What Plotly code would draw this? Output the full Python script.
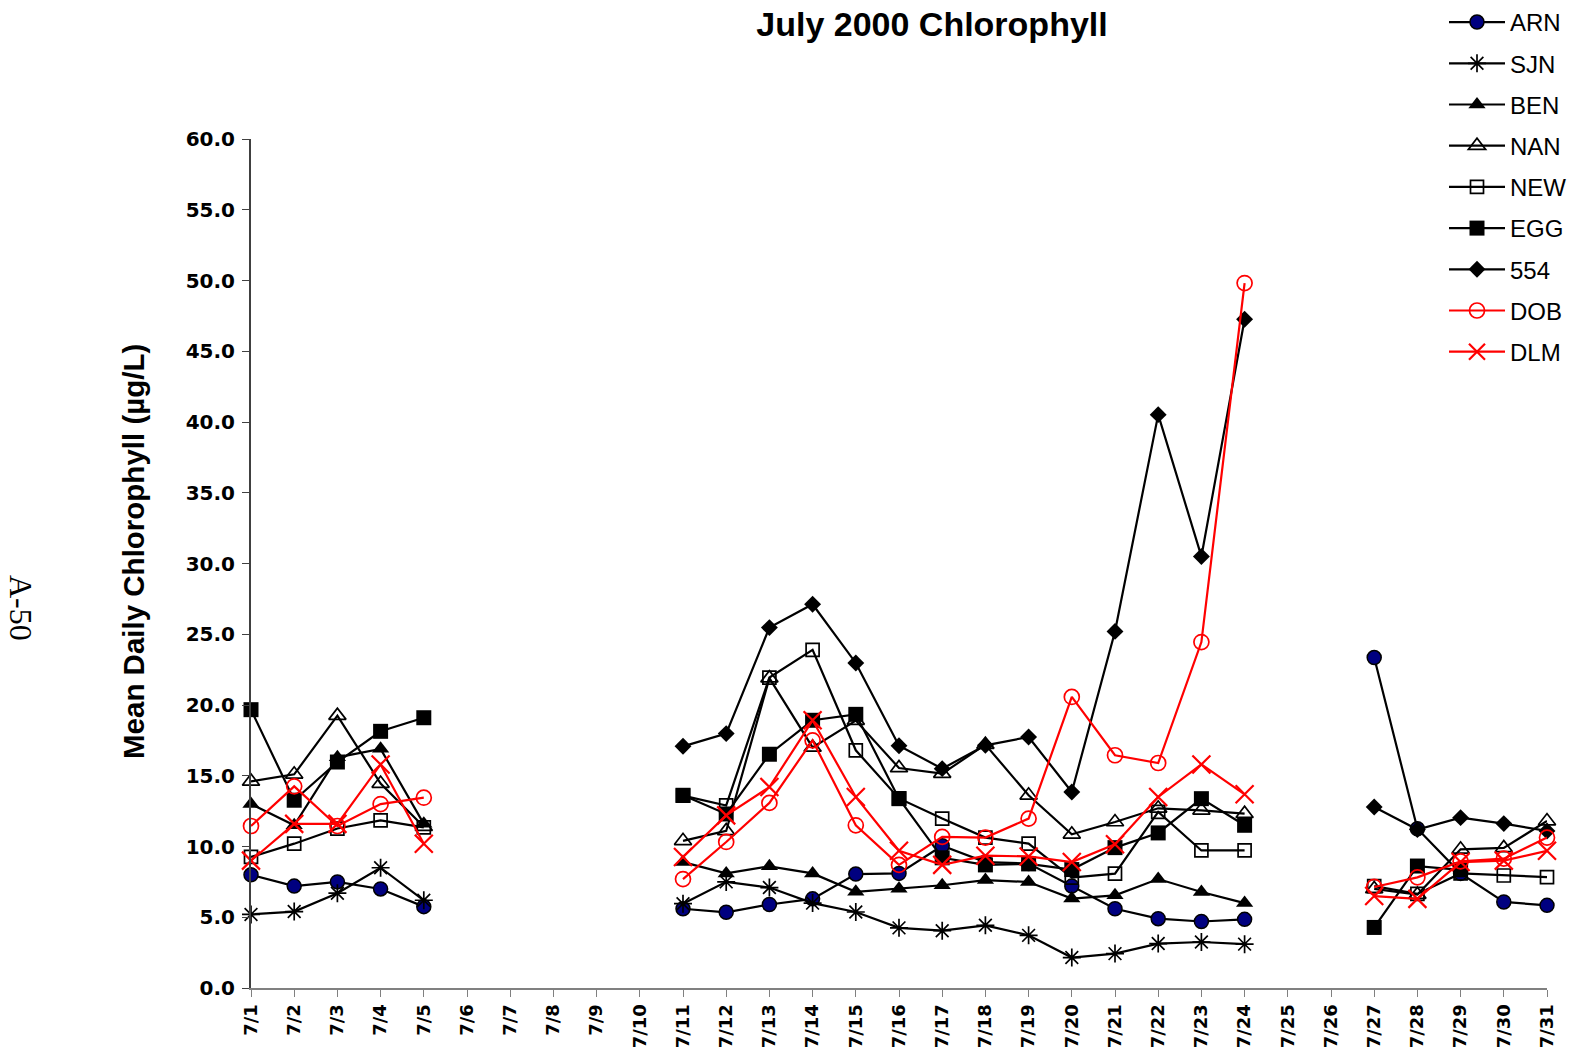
import plotly.graph_objects as go

# Day index of each July date (1..31) and its axis label
days = list(range(1, 32))
day_labels = ["7/1", "7/2", "7/3", "7/4", "7/5", "7/6", "7/7", "7/8", "7/9", "7/10",
              "7/11", "7/12", "7/13", "7/14", "7/15", "7/16", "7/17", "7/18", "7/19", "7/20",
              "7/21", "7/22", "7/23", "7/24", "7/25", "7/26", "7/27", "7/28", "7/29", "7/30", "7/31"]

N = None
# Mean daily chlorophyll (ug/L) per station; None = no data that day
arn = [8.0, 7.2, 7.5, 7.0, 5.75, N, N, N, N, N,
       5.6, 5.35, 5.9, 6.3, 8.05, 8.1, 10.05, 8.9, 8.8, 7.2,
       5.6, 4.9, 4.7, 4.85, N, N, 23.35, 11.25, 8.1, 6.08, 5.84]
sjn = [5.2, 5.4, 6.7, 8.5, 6.2, N, N, N, N, N,
       5.96, 7.5, 7.1, 6.0, 5.37, 4.25, 4.05, 4.43, 3.72, 2.15,
       2.43, 3.14, 3.25, 3.1, N, N, N, N, N, N, N]
ben = [13.0, 11.5, 16.3, 16.9, 11.6, N, N, N, N, N,
       8.9, 8.1, 8.6, 8.1, 6.8, 7.02, 7.26, 7.63, 7.49, 6.32,
       6.55, 7.7, 6.78, 6.0, N, N, N, N, N, N, N]
nan_ = [14.6, 15.1, 19.25, 14.45, 11.4, N, N, N, N, N,
        10.4, 11.1, 21.9, 17.0, 18.9, 15.55, 15.15, 17.2, 13.62, 10.86,
        11.73, 12.7, 12.56, 12.32, N, N, 7.0, 6.6, 9.8, 9.9, 11.8]
new = [9.26, 10.2, 11.27, 11.85, 11.35, N, N, N, N, N,
       13.6, 12.9, 21.94, 23.9, 16.8, 13.4, 11.97, 10.63, 10.2, 7.8,
       8.08, 12.45, 9.72, 9.72, N, N, 7.2, 6.65, 8.1, 7.95, 7.84]
egg = [19.67, 13.27, 15.97, 18.14, 19.1, N, N, N, N, N,
       13.62, 12.3, 16.52, 18.92, 19.34, 13.38, 9.2, 8.7, 8.77, 8.37,
       9.92, 10.96, 13.38, 11.5, N, N, 4.28, 8.62, 8.35, N, N]
s554 = [N, N, N, N, N, N, N, N, N, N,
        17.08, 17.98, 25.47, 27.12, 22.97, 17.12, 15.5, 17.15, 17.74, 13.85,
        25.2, 40.52, 30.5, 47.26, N, N, 12.79, 11.2, 12.04, 11.62, 11.1]
dob = [11.45, 14.25, 11.45, 13.0, 13.45, N, N, N, N, N,
       7.7, 10.32, 13.08, 17.5, 11.5, 8.7, 10.68, 10.63, 11.97, 20.57,
       16.45, 15.9, 24.45, 49.82, N, N, 7.14, 7.82, 8.95, 9.14, 10.63]
dlm = [9.0, 11.6, 11.6, 15.8, 10.2, N, N, N, N, N,
       9.26, 12.2, 14.2, 18.92, 13.5, 9.7, 8.7, 9.35, 9.3, 8.9,
       10.16, 13.5, 15.8, 13.69, N, N, 6.5, 6.3, 8.9, 9.0, 9.7]

y_ticks = [0, 5, 10, 15, 20, 25, 30, 35, 40, 45, 50, 55, 60]

series = [
    ("ARN", arn, "black", dict(symbol="circle", size=14, color="#000080",
                               line=dict(color="black", width=1.5))),
    ("SJN", sjn, "black", dict(symbol="asterisk-open", size=15, color="black",
                               line=dict(color="black", width=1.7))),
    ("BEN", ben, "black", dict(symbol="triangle-up", size=15, color="black")),
    ("NAN", nan_, "black", dict(symbol="triangle-up-open", size=15, color="black",
                                line=dict(color="black", width=1.7))),
    ("NEW", new, "black", dict(symbol="square-open", size=13, color="black",
                               line=dict(color="black", width=1.7))),
    ("EGG", egg, "black", dict(symbol="square", size=15, color="black")),
    ("554", s554, "black", dict(symbol="diamond", size=13, color="black")),
    ("DOB", dob, "#ff0000", dict(symbol="circle-open", size=15, color="#ff0000",
                                 line=dict(color="#ff0000", width=1.7))),
    ("DLM", dlm, "#ff0000", dict(symbol="x-thin-open", size=18, color="#ff0000",
                                 line=dict(color="#ff0000", width=2.2))),
]

fig = go.Figure()
for name, vals, col, mk in series:
    fig.add_trace(go.Scatter(
        x=days, y=vals, name=name, mode="lines+markers",
        line=dict(color=col, width=2.2), marker=mk,
        connectgaps=False, cliponaxis=False, legendgroup=name,
    ))

# plot area in pixels: x 251..1547, y 139..988
PL, PW, PB, PH = 251, 1296, 988, 849

fig.update_layout(
    width=1576, height=1051,
    margin=dict(l=251, r=29, t=139, b=63, autoexpand=False),
    paper_bgcolor="white", plot_bgcolor="white",
    showlegend=True,
    legend=dict(
        xref="container", yref="container", x=1444 / 1576, y=1 + 3 / 1051,
        xanchor="left", yanchor="top", itemwidth=56,
        font=dict(family="Liberation Sans, Arial, sans-serif", size=24, color="black"),
        tracegroupgap=7, bgcolor="rgba(0,0,0,0)",
    ),
    title=dict(
        text="<b>July 2000 Chlorophyll</b>",
        xref="container", x=932 / 1576, xanchor="center",
        yref="container", y=1 - 24 / 1051, yanchor="middle",
        font=dict(family="Liberation Sans, Arial, sans-serif", size=34, color="black"),
    ),
    annotations=[
        dict(
            text="<b>Mean Daily Chlorophyll (µg/L)</b>",
            xref="paper", yref="paper",
            x=(133 - PL) / PW, y=(PB - 552) / PH,
            xanchor="center", yanchor="middle", showarrow=False, textangle=-90,
            font=dict(family="Liberation Sans Narrow, Liberation Sans, Arial, sans-serif",
                      size=29.5, color="black"),
        ),
        dict(
            text="A-50", xref="paper", yref="paper",
            x=(21 - PL) / PW, y=(PB - 608) / PH,
            xanchor="center", yanchor="middle", showarrow=False, textangle=90,
            font=dict(family="Liberation Serif, Times New Roman, serif", size=32, color="black"),
        ),
    ],
)

fig.update_xaxes(
    range=[1, 31], tickmode="array", tickvals=days, ticktext=day_labels,
    tickangle=-90, ticks="outside", ticklen=7, tickcolor="#808080",
    showline=True, linecolor="#808080", linewidth=2, showgrid=False, zeroline=False,
    tickfont=dict(family="DejaVu Sans, sans-serif", size=18, color="black", weight="bold"),
)
fig.update_yaxes(
    range=[0, 60], tickmode="array", tickvals=y_ticks,
    ticktext=[f"{v:.1f}" for v in y_ticks],
    ticks="outside", ticklen=7, tickcolor="#404040", ticklabelstandoff=3,
    showline=True, linecolor="#404040", linewidth=2, showgrid=False, zeroline=False,
    tickfont=dict(family="DejaVu Sans, sans-serif", size=20, color="black", weight="bold"),
)

fig.write_html("out.html")
